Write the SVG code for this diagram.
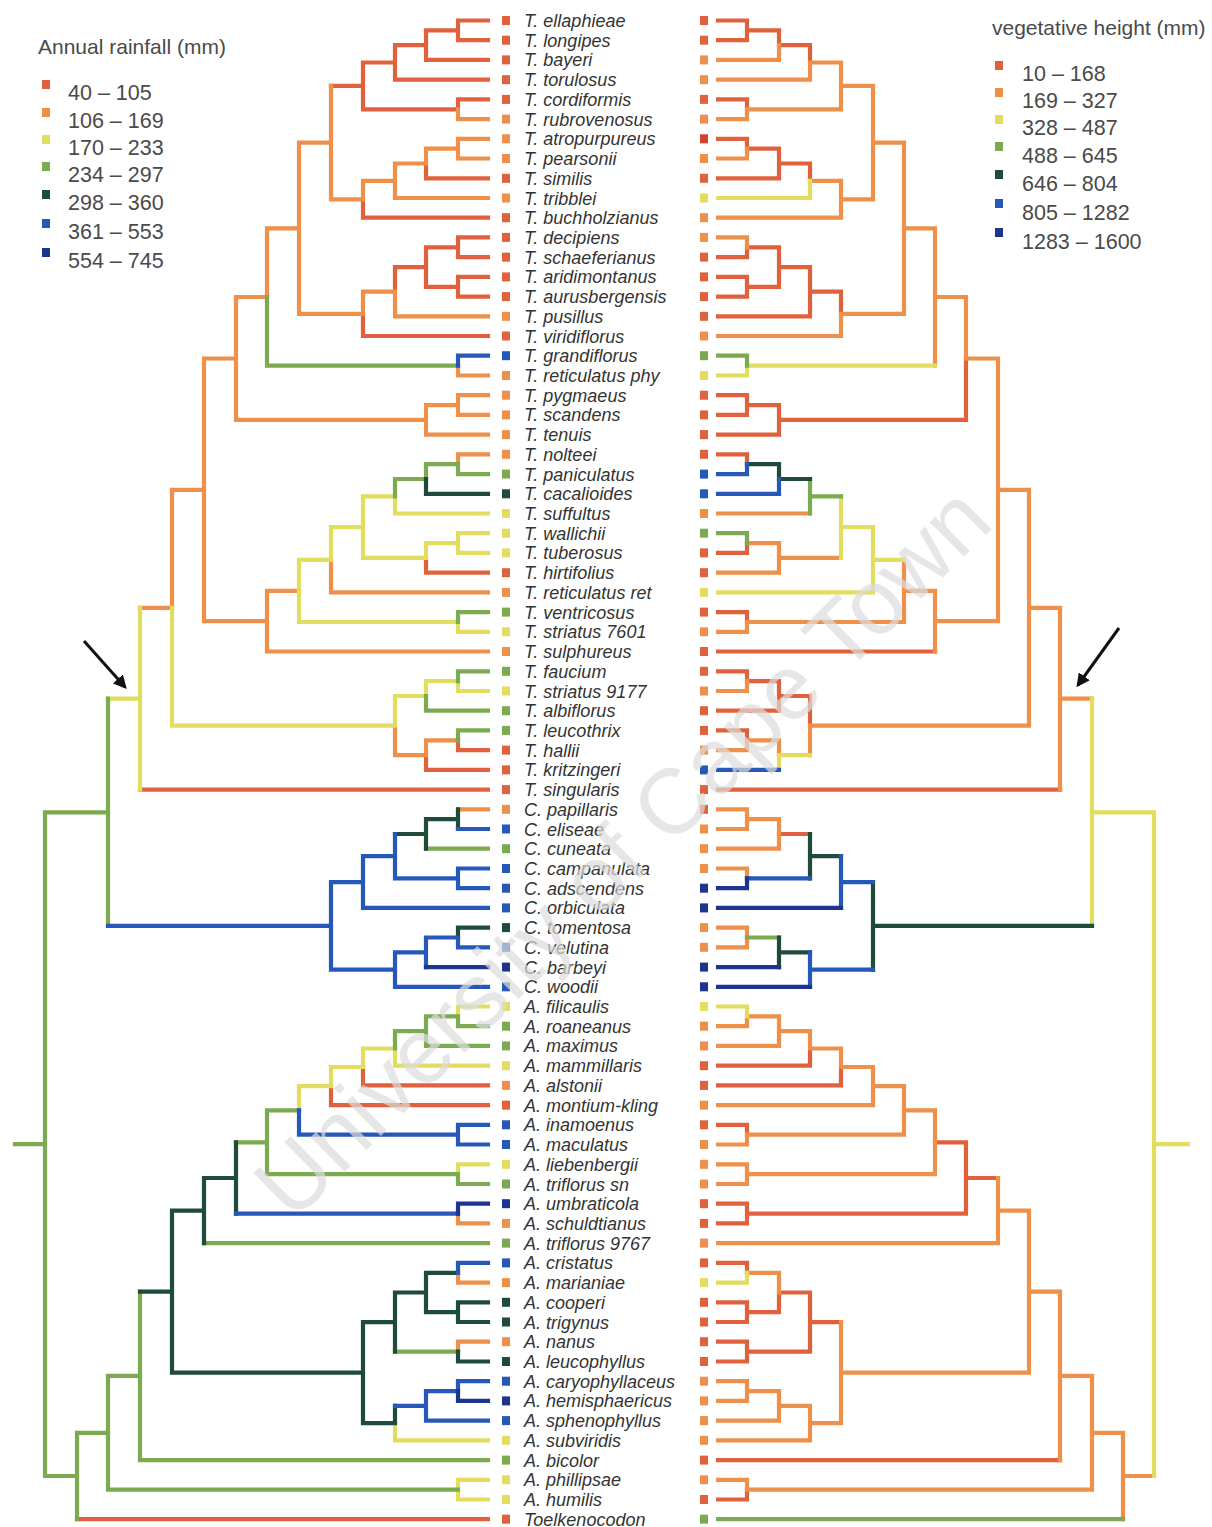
<svg xmlns="http://www.w3.org/2000/svg" width="1212" height="1527" viewBox="0 0 1212 1527">
<defs>
<style>
.e{fill:none;stroke-width:4.2;stroke-linecap:square;stroke-linejoin:miter}
.k1{stroke:#E0623C}.k2{stroke:#EE8F4A}.k3{stroke:#E2DD5E}.k4{stroke:#7CAA50}.k5{stroke:#1F4B3B}.k6{stroke:#2558B9}.k7{stroke:#1D3491}
.s1{fill:#E0623C}.s2{fill:#EE8F4A}.s3{fill:#E2DD5E}.s4{fill:#7CAA50}.s5{fill:#1F4B3B}.s6{fill:#2558B9}.s7{fill:#1D3491}
.lab text{font-family:"Liberation Sans",Arial,sans-serif;font-style:italic;font-size:18px;fill:#333}
.leg{font-family:"Liberation Sans",Arial,sans-serif;font-size:21.5px;fill:#4a4a4a}
.leg .ttl{font-size:21px}
.wm{font-family:"Liberation Sans",Arial,sans-serif;font-size:92px;fill:#dcdcdc;fill-opacity:0.7}
</style>
<marker id="arr" viewBox="0 0 10 10" refX="8" refY="5" markerWidth="4.5" markerHeight="4.5" orient="auto"><path d="M0 0L10 5L0 10z" fill="#111"/></marker>
</defs>
<rect width="1212" height="1527" fill="#fff"/>

<!-- tree branches: left = annual rainfall, right = vegetative height -->
<g id="connectors">
<g id="rainfall-tree">
<path class="e k1" d="M458 30.4V20.5H488M458 30.4V40.2H488M426 45.2V59.9H488M395 62.5V79.7H488M458 109.3V99.4H488M426 163.5V178.3H488M363 199.3V217.7H488M458 247.3V237.4H488M458 247.3V257.1H488M458 286.8V276.9H488M458 286.8V296.6H488M363 313.9V336H488M426 557.9V572.7H488M458 740.3V750.1H488M426 755.1V769.9H488M140 789.6H488M363 1067V1085.4H488M331 1086.1V1105.1H488M77 1519.2H488M426 45.2V30.4H458M395 62.5V45.2H426M363 85.9V62.5H395M363 85.9V109.3H458M331 85.9H363M426 267.1V247.3H458M426 267.1V286.8H458M395 291.7V267.1H426"/>
<path class="e k2" d="M458 109.3V119.1H488M458 148.7V138.8H488M458 148.7V158.5H488M395 180.8V198H488M395 291.7V316.3H488M458 365.6V375.5H488M458 405.1V395.2H488M458 405.1V414.9H488M426 419.9V434.6H488M458 464.2V454.3H488M331 559.8V592.4H488M267 621.2V651.5H488M458 809.3H488M458 1213.6V1223.4H488M458 1272.8V1282.6H488M458 1351.6V1341.7H488M331 142.6V85.9M331 142.6V199.3H363M426 163.5V148.7H458M395 180.8V163.5H426M363 199.3V180.8H395M299 228.3V142.6H331M363 313.9V291.7H395M299 228.3V313.9H363M267 297V228.3H299M236 358.5V297H267M426 419.9V405.1H458M236 358.5V419.9H426M204 489.9V358.5H236M267 621.2V590.9H299M204 489.9V621.2H267M172 607.8V489.9H204M426 755.1V740.3H458M395 725.6V755.1H426M140 607.8H172"/>
<path class="e k3" d="M395 496.3V513.5H488M458 543.1V533.2H488M458 543.1V552.9H488M458 622V631.8H488M458 681.2V691H488M140 698.7V789.6M458 1016.4V1006.5H488M395 1048.5V1065.7H488M458 1174.2V1164.3H488M395 1423.1V1440.3H488M458 1489.7V1479.8H488M458 1489.7V1499.5H488M363 527.1V496.3H395M426 557.9V543.1H458M363 527.1V557.9H426M331 559.8V527.1H363M299 590.9V559.8H331M299 590.9V622H458M426 696V681.2H458M395 725.6V696H426M172 607.8V725.6H395M140 698.7V607.8M108 698.7H140M363 1067V1048.5H395M331 1086.1V1067H363M299 1110.4V1086.1H331"/>
<path class="e k4" d="M458 464.2V474.1H488M458 622V612.1H488M458 681.2V671.3H488M426 696V710.7H488M458 740.3V730.4H488M426 848.7H488M458 1016.4V1026.2H488M426 1031.2V1045.9H488M458 1174.2V1184H488M204 1243.1H488M140 1375.9V1460.1H488M77 1476V1519.2M267 297V365.6H458M426 479V464.2H458M395 496.3V479H426M108 812.3V698.7M108 812.3V925.9M45 1144.2V812.3H108M426 1031.2V1016.4H458M395 1048.5V1031.2H426M267 1142.3V1110.4H299M267 1142.3V1174.2H458M236 1142.3H267M395 1351.6H458M140 1375.9V1291.6M108 1432.8V1375.9H140M108 1432.8V1489.7H458M77 1476V1432.8H108M45 1144.2V1476H77M15 1144.2H45"/>
<path class="e k5" d="M426 479V493.8H488M458 819.2V809.3M458 819.2V829M426 834V848.7M458 937.5V927.6H488M204 1210.6V1243.1M458 1312.2V1302.3H488M458 1312.2V1322H488M458 1351.6V1361.5H488M426 834V819.2H458M395 834H426M236 1178V1142.3M236 1178V1213.6M204 1210.6V1178H236M172 1291.6V1210.6H204M426 1292.5V1272.8H458M426 1292.5V1312.2H458M395 1322.1V1292.5H426M395 1322.1V1351.6M363 1372.6V1322.1H395M395 1423.1V1405.9M363 1372.6V1423.1H395M172 1291.6V1372.6H363M140 1291.6H172"/>
<path class="e k6" d="M458 365.6V355.7H488M458 829H488M458 878.4V868.5H488M458 878.4V888.2H488M363 882.1V907.9H488M458 937.5V947.3H488M426 952.3V967.1M395 969.6V986.8H488M458 1134.7V1124.8H488M458 1134.7V1144.5H488M458 1272.8V1262.9H488M458 1391.1V1381.2H488M426 1405.9V1420.6H488M395 856.2V834M395 856.2V878.4H458M363 882.1V856.2H395M331 925.9V882.1H363M426 952.3V937.5H458M395 969.6V952.3H426M331 925.9V969.6H395M108 925.9H331M299 1110.4V1134.7H458M236 1213.6H458M426 1405.9V1391.1H458M395 1405.9H426"/>
<path class="e k7" d="M426 967.1H488M458 1213.6V1203.7H488M458 1391.1V1400.9H488"/>
</g>
<g id="height-tree">
<path class="e k1" d="M747 30.4V20.5H718M747 30.4V40.2H718M747 109.3V99.4H718M747 148.7V138.8H718M779 163.5V178.3H718M747 247.3V257.1H718M747 286.8V276.9H718M747 286.8V296.6H718M810 291.7V316.3H718M747 405.1V395.2H718M747 405.1V414.9H718M779 419.9V434.6H718M747 464.2V454.3H718M747 543.1V552.9H718M747 622V612.1H718M935 651.5H718M747 681.2V671.3H718M779 696V710.7H718M747 740.3V730.4H718M1060 789.6H718M810 1048.5V1065.7H718M841 1067V1085.4H718M747 1134.7V1124.8H718M747 1213.6V1203.7H718M747 1213.6V1223.4H718M747 1272.8V1262.9H718M747 1312.2V1302.3H718M747 1312.2V1322H718M747 1351.6V1341.7H718M747 1351.6V1361.5H718M1060 1460.1H718M747 1489.7V1499.5H718M779 45.2V30.4H747M810 62.5V45.2H779M779 163.5V148.7H747M810 180.8V163.5H779M779 267.1V247.3H747M779 267.1V286.8H747M810 291.7V267.1H779M841 313.9V291.7H810M779 419.9V405.1H747M966 358.5V419.9H779M779 696V681.2H747M810 725.6V696H779M810 834H779M966 1178V1142.3H935M966 1178V1213.6H747M998 1178H966M779 1292.5V1312.2H747M810 1322.1V1292.5H779M810 1322.1V1351.6H747M841 1322.1H810"/>
<path class="e k2" d="M779 45.2V59.9H718M810 62.5V79.7H718M747 109.3V119.1H718M747 148.7V158.5H718M841 199.3V217.7H718M747 247.3V237.4H718M841 313.9V336H718M810 513.5H718M779 557.9V572.7H718M747 622V631.8H718M935 621.2V651.5M747 681.2V691H718M747 740.3V750.1H718M1060 698.7V789.6M747 819.2V809.3H718M747 819.2V829H718M779 834V848.7H718M747 878.4V868.5H718M747 937.5V927.6H718M747 937.5V947.3H718M747 1016.4V1026.2H718M779 1031.2V1045.9H718M873 1086.1V1105.1H718M747 1134.7V1144.5H718M747 1174.2V1164.3H718M747 1174.2V1184H718M998 1210.6V1243.1H718M747 1391.1V1381.2H718M747 1391.1V1400.9H718M779 1405.9V1420.6H718M810 1423.1V1440.3H718M1060 1375.9V1460.1M747 1489.7V1479.8H718M1123 1476V1519.2M841 85.9V62.5H810M841 85.9V109.3H747M873 142.6V85.9H841M873 142.6V199.3H841M841 199.3V180.8H810M904 228.3V142.6H873M904 228.3V313.9H841M935 297V228.3H904M935 297V365.6M966 358.5V297H935M998 489.9V358.5H966M779 557.9V543.1H747M841 557.9H779M904 590.9V559.8M904 590.9V622H747M935 621.2V590.9H904M998 489.9V621.2H935M1029 607.8V489.9H998M779 755.1V740.3H747M810 725.6V755.1M1029 607.8V725.6H810M1060 698.7V607.8H1029M1092 698.7H1060M779 834V819.2H747M779 1031.2V1016.4H747M810 1048.5V1031.2H779M841 1067V1048.5H810M873 1086.1V1067H841M904 1110.4V1086.1H873M904 1110.4V1134.7H747M935 1142.3V1110.4H904M935 1142.3V1174.2H747M998 1210.6V1178M1029 1291.6V1210.6H998M779 1292.5V1272.8H747M841 1372.6V1322.1M779 1405.9V1391.1H747M810 1423.1V1405.9H779M841 1372.6V1423.1H810M1029 1291.6V1372.6H841M1060 1375.9V1291.6H1029M1092 1432.8V1375.9H1060M1092 1432.8V1489.7H747M1123 1476V1432.8H1092M1154 1476H1123"/>
<path class="e k3" d="M810 180.8V198H718M747 365.6V375.5H718M873 559.8V592.4H718M779 755.1V769.9M747 1016.4V1006.5H718M747 1272.8V1282.6H718M935 365.6H747M841 527.1V496.3M841 527.1V557.9M873 559.8V527.1H841M904 559.8H873M810 755.1H779M1092 812.3V698.7M1092 812.3V925.9M1154 1144.2V812.3H1092M1154 1144.2V1476M1154 1144.2H1188"/>
<path class="e k4" d="M747 365.6V355.7H718M810 496.3V513.5M747 543.1V533.2H718M1123 1519.2H718M810 496.3V479M841 496.3H810M779 937.5H747"/>
<path class="e k5" d="M779 952.3V967.1M779 479V464.2H747M810 479H779M810 856.2V834M810 856.2V878.4M841 856.2H810M873 925.9V882.1M779 952.3V937.5M810 952.3H779M873 925.9V969.6M1092 925.9H873"/>
<path class="e k6" d="M747 464.2V474.1H718M779 479V493.8H718M779 769.9H718M841 882.1V907.9M810 969.6V986.8M810 878.4H747M841 882.1V856.2M873 882.1H841M810 969.6V952.3M873 969.6H810"/>
<path class="e k7" d="M747 878.4V888.2H718M841 907.9H718M779 967.1H718M810 986.8H718"/>
</g>
</g>

<!-- taxa: rainfall square, name, height square -->
<g id="taxa" class="lab">
<g id="t01"><rect class="s1" x="502" y="16" width="8" height="9"/><text x="524" y="27">T. ellaphieae</text><rect class="s1" x="700" y="16" width="8" height="9"/></g>
<g id="t02"><rect class="s1" x="502" y="35.7" width="8" height="9"/><text x="524" y="46.7">T. longipes</text><rect class="s1" x="700" y="35.7" width="8" height="9"/></g>
<g id="t03"><rect class="s1" x="502" y="55.4" width="8" height="9"/><text x="524" y="66.4">T. bayeri</text><rect class="s2" x="700" y="55.4" width="8" height="9"/></g>
<g id="t04"><rect class="s1" x="502" y="75.2" width="8" height="9"/><text x="524" y="86.2">T. torulosus</text><rect class="s2" x="700" y="75.2" width="8" height="9"/></g>
<g id="t05"><rect class="s1" x="502" y="94.9" width="8" height="9"/><text x="524" y="105.9">T. cordiformis</text><rect class="s1" x="700" y="94.9" width="8" height="9"/></g>
<g id="t06"><rect class="s2" x="502" y="114.6" width="8" height="9"/><text x="524" y="125.6">T. rubrovenosus</text><rect class="s2" x="700" y="114.6" width="8" height="9"/></g>
<g id="t07"><rect class="s2" x="502" y="134.3" width="8" height="9"/><text x="524" y="145.3">T. atropurpureus</text><rect fill="#D4402E" x="700" y="134.3" width="8" height="9"/></g>
<g id="t08"><rect class="s2" x="502" y="154" width="8" height="9"/><text x="524" y="165">T. pearsonii</text><rect class="s2" x="700" y="154" width="8" height="9"/></g>
<g id="t09"><rect class="s1" x="502" y="173.8" width="8" height="9"/><text x="524" y="184.8">T. similis</text><rect class="s1" x="700" y="173.8" width="8" height="9"/></g>
<g id="t10"><rect class="s2" x="502" y="193.5" width="8" height="9"/><text x="524" y="204.5">T. tribblei</text><rect class="s3" x="700" y="193.5" width="8" height="9"/></g>
<g id="t11"><rect class="s1" x="502" y="213.2" width="8" height="9"/><text x="524" y="224.2">T. buchholzianus</text><rect class="s2" x="700" y="213.2" width="8" height="9"/></g>
<g id="t12"><rect class="s1" x="502" y="232.9" width="8" height="9"/><text x="524" y="243.9">T. decipiens</text><rect class="s2" x="700" y="232.9" width="8" height="9"/></g>
<g id="t13"><rect class="s1" x="502" y="252.6" width="8" height="9"/><text x="524" y="263.6">T. schaeferianus</text><rect class="s1" x="700" y="252.6" width="8" height="9"/></g>
<g id="t14"><rect class="s1" x="502" y="272.4" width="8" height="9"/><text x="524" y="283.4">T. aridimontanus</text><rect class="s1" x="700" y="272.4" width="8" height="9"/></g>
<g id="t15"><rect class="s1" x="502" y="292.1" width="8" height="9"/><text x="524" y="303.1">T. aurusbergensis</text><rect class="s1" x="700" y="292.1" width="8" height="9"/></g>
<g id="t16"><rect class="s2" x="502" y="311.8" width="8" height="9"/><text x="524" y="322.8">T. pusillus</text><rect class="s1" x="700" y="311.8" width="8" height="9"/></g>
<g id="t17"><rect class="s1" x="502" y="331.5" width="8" height="9"/><text x="524" y="342.5">T. viridiflorus</text><rect class="s2" x="700" y="331.5" width="8" height="9"/></g>
<g id="t18"><rect class="s6" x="502" y="351.2" width="8" height="9"/><text x="524" y="362.2">T. grandiflorus</text><rect class="s4" x="700" y="351.2" width="8" height="9"/></g>
<g id="t19"><rect class="s2" x="502" y="371" width="8" height="9"/><text x="524" y="382">T. reticulatus phy</text><rect class="s3" x="700" y="371" width="8" height="9"/></g>
<g id="t20"><rect class="s2" x="502" y="390.7" width="8" height="9"/><text x="524" y="401.7">T. pygmaeus</text><rect class="s1" x="700" y="390.7" width="8" height="9"/></g>
<g id="t21"><rect class="s2" x="502" y="410.4" width="8" height="9"/><text x="524" y="421.4">T. scandens</text><rect class="s1" x="700" y="410.4" width="8" height="9"/></g>
<g id="t22"><rect class="s2" x="502" y="430.1" width="8" height="9"/><text x="524" y="441.1">T. tenuis</text><rect class="s1" x="700" y="430.1" width="8" height="9"/></g>
<g id="t23"><rect class="s2" x="502" y="449.8" width="8" height="9"/><text x="524" y="460.8">T. nolteei</text><rect class="s1" x="700" y="449.8" width="8" height="9"/></g>
<g id="t24"><rect class="s4" x="502" y="469.6" width="8" height="9"/><text x="524" y="480.6">T. paniculatus</text><rect class="s6" x="700" y="469.6" width="8" height="9"/></g>
<g id="t25"><rect class="s5" x="502" y="489.3" width="8" height="9"/><text x="524" y="500.3">T. cacalioides</text><rect class="s6" x="700" y="489.3" width="8" height="9"/></g>
<g id="t26"><rect class="s3" x="502" y="509" width="8" height="9"/><text x="524" y="520">T. suffultus</text><rect class="s2" x="700" y="509" width="8" height="9"/></g>
<g id="t27"><rect class="s3" x="502" y="528.7" width="8" height="9"/><text x="524" y="539.7">T. wallichii</text><rect class="s4" x="700" y="528.7" width="8" height="9"/></g>
<g id="t28"><rect class="s3" x="502" y="548.4" width="8" height="9"/><text x="524" y="559.4">T. tuberosus</text><rect class="s1" x="700" y="548.4" width="8" height="9"/></g>
<g id="t29"><rect class="s1" x="502" y="568.2" width="8" height="9"/><text x="524" y="579.2">T. hirtifolius</text><rect class="s1" x="700" y="568.2" width="8" height="9"/></g>
<g id="t30"><rect class="s2" x="502" y="587.9" width="8" height="9"/><text x="524" y="598.9">T. reticulatus ret</text><rect class="s3" x="700" y="587.9" width="8" height="9"/></g>
<g id="t31"><rect class="s4" x="502" y="607.6" width="8" height="9"/><text x="524" y="618.6">T. ventricosus</text><rect class="s1" x="700" y="607.6" width="8" height="9"/></g>
<g id="t32"><rect class="s3" x="502" y="627.3" width="8" height="9"/><text x="524" y="638.3">T. striatus 7601</text><rect class="s2" x="700" y="627.3" width="8" height="9"/></g>
<g id="t33"><rect class="s2" x="502" y="647" width="8" height="9"/><text x="524" y="658">T. sulphureus</text><rect class="s1" x="700" y="647" width="8" height="9"/></g>
<g id="t34"><rect class="s4" x="502" y="666.8" width="8" height="9"/><text x="524" y="677.8">T. faucium</text><rect class="s1" x="700" y="666.8" width="8" height="9"/></g>
<g id="t35"><rect class="s3" x="502" y="686.5" width="8" height="9"/><text x="524" y="697.5">T. striatus 9177</text><rect class="s2" x="700" y="686.5" width="8" height="9"/></g>
<g id="t36"><rect class="s4" x="502" y="706.2" width="8" height="9"/><text x="524" y="717.2">T. albiflorus</text><rect class="s1" x="700" y="706.2" width="8" height="9"/></g>
<g id="t37"><rect class="s4" x="502" y="725.9" width="8" height="9"/><text x="524" y="736.9">T. leucothrix</text><rect class="s1" x="700" y="725.9" width="8" height="9"/></g>
<g id="t38"><rect class="s1" x="502" y="745.6" width="8" height="9"/><text x="524" y="756.6">T. hallii</text><rect class="s2" x="700" y="745.6" width="8" height="9"/></g>
<g id="t39"><rect class="s1" x="502" y="765.4" width="8" height="9"/><text x="524" y="776.4">T. kritzingeri</text><rect class="s6" x="700" y="765.4" width="8" height="9"/></g>
<g id="t40"><rect class="s1" x="502" y="785.1" width="8" height="9"/><text x="524" y="796.1">T. singularis</text><rect class="s1" x="700" y="785.1" width="8" height="9"/></g>
<g id="t41"><rect class="s2" x="502" y="804.8" width="8" height="9"/><text x="524" y="815.8">C. papillaris</text><rect class="s1" x="700" y="804.8" width="8" height="9"/></g>
<g id="t42"><rect class="s6" x="502" y="824.5" width="8" height="9"/><text x="524" y="835.5">C. eliseae</text><rect class="s2" x="700" y="824.5" width="8" height="9"/></g>
<g id="t43"><rect class="s4" x="502" y="844.2" width="8" height="9"/><text x="524" y="855.2">C. cuneata</text><rect class="s2" x="700" y="844.2" width="8" height="9"/></g>
<g id="t44"><rect class="s6" x="502" y="864" width="8" height="9"/><text x="524" y="875">C. campanulata</text><rect class="s2" x="700" y="864" width="8" height="9"/></g>
<g id="t45"><rect class="s6" x="502" y="883.7" width="8" height="9"/><text x="524" y="894.7">C. adscendens</text><rect class="s7" x="700" y="883.7" width="8" height="9"/></g>
<g id="t46"><rect class="s6" x="502" y="903.4" width="8" height="9"/><text x="524" y="914.4">C. orbiculata</text><rect class="s7" x="700" y="903.4" width="8" height="9"/></g>
<g id="t47"><rect class="s5" x="502" y="923.1" width="8" height="9"/><text x="524" y="934.1">C. tomentosa</text><rect class="s2" x="700" y="923.1" width="8" height="9"/></g>
<g id="t48"><rect class="s6" x="502" y="942.8" width="8" height="9"/><text x="524" y="953.8">C. velutina</text><rect class="s2" x="700" y="942.8" width="8" height="9"/></g>
<g id="t49"><rect class="s7" x="502" y="962.6" width="8" height="9"/><text x="524" y="973.6">C. barbeyi</text><rect class="s7" x="700" y="962.6" width="8" height="9"/></g>
<g id="t50"><rect class="s6" x="502" y="982.3" width="8" height="9"/><text x="524" y="993.3">C. woodii</text><rect class="s7" x="700" y="982.3" width="8" height="9"/></g>
<g id="t51"><rect class="s3" x="502" y="1002" width="8" height="9"/><text x="524" y="1013">A. filicaulis</text><rect class="s3" x="700" y="1002" width="8" height="9"/></g>
<g id="t52"><rect class="s4" x="502" y="1021.7" width="8" height="9"/><text x="524" y="1032.7">A. roaneanus</text><rect class="s2" x="700" y="1021.7" width="8" height="9"/></g>
<g id="t53"><rect class="s4" x="502" y="1041.4" width="8" height="9"/><text x="524" y="1052.4">A. maximus</text><rect class="s2" x="700" y="1041.4" width="8" height="9"/></g>
<g id="t54"><rect class="s3" x="502" y="1061.2" width="8" height="9"/><text x="524" y="1072.2">A. mammillaris</text><rect class="s1" x="700" y="1061.2" width="8" height="9"/></g>
<g id="t55"><rect class="s2" x="502" y="1080.9" width="8" height="9"/><text x="524" y="1091.9">A. alstonii</text><rect class="s1" x="700" y="1080.9" width="8" height="9"/></g>
<g id="t56"><rect class="s1" x="502" y="1100.6" width="8" height="9"/><text x="524" y="1111.6">A. montium-kling</text><rect class="s2" x="700" y="1100.6" width="8" height="9"/></g>
<g id="t57"><rect class="s6" x="502" y="1120.3" width="8" height="9"/><text x="524" y="1131.3">A. inamoenus</text><rect class="s1" x="700" y="1120.3" width="8" height="9"/></g>
<g id="t58"><rect class="s6" x="502" y="1140" width="8" height="9"/><text x="524" y="1151">A. maculatus</text><rect class="s2" x="700" y="1140" width="8" height="9"/></g>
<g id="t59"><rect class="s3" x="502" y="1159.8" width="8" height="9"/><text x="524" y="1170.8">A. liebenbergii</text><rect class="s2" x="700" y="1159.8" width="8" height="9"/></g>
<g id="t60"><rect class="s4" x="502" y="1179.5" width="8" height="9"/><text x="524" y="1190.5">A. triflorus sn</text><rect class="s2" x="700" y="1179.5" width="8" height="9"/></g>
<g id="t61"><rect class="s7" x="502" y="1199.2" width="8" height="9"/><text x="524" y="1210.2">A. umbraticola</text><rect class="s1" x="700" y="1199.2" width="8" height="9"/></g>
<g id="t62"><rect class="s2" x="502" y="1218.9" width="8" height="9"/><text x="524" y="1229.9">A. schuldtianus</text><rect class="s1" x="700" y="1218.9" width="8" height="9"/></g>
<g id="t63"><rect class="s4" x="502" y="1238.6" width="8" height="9"/><text x="524" y="1249.6">A. triflorus 9767</text><rect class="s2" x="700" y="1238.6" width="8" height="9"/></g>
<g id="t64"><rect class="s6" x="502" y="1258.4" width="8" height="9"/><text x="524" y="1269.4">A. cristatus</text><rect class="s1" x="700" y="1258.4" width="8" height="9"/></g>
<g id="t65"><rect class="s2" x="502" y="1278.1" width="8" height="9"/><text x="524" y="1289.1">A. marianiae</text><rect class="s3" x="700" y="1278.1" width="8" height="9"/></g>
<g id="t66"><rect class="s5" x="502" y="1297.8" width="8" height="9"/><text x="524" y="1308.8">A. cooperi</text><rect class="s1" x="700" y="1297.8" width="8" height="9"/></g>
<g id="t67"><rect class="s5" x="502" y="1317.5" width="8" height="9"/><text x="524" y="1328.5">A. trigynus</text><rect class="s1" x="700" y="1317.5" width="8" height="9"/></g>
<g id="t68"><rect class="s2" x="502" y="1337.2" width="8" height="9"/><text x="524" y="1348.2">A. nanus</text><rect class="s1" x="700" y="1337.2" width="8" height="9"/></g>
<g id="t69"><rect class="s5" x="502" y="1357" width="8" height="9"/><text x="524" y="1368">A. leucophyllus</text><rect class="s1" x="700" y="1357" width="8" height="9"/></g>
<g id="t70"><rect class="s6" x="502" y="1376.7" width="8" height="9"/><text x="524" y="1387.7">A. caryophyllaceus</text><rect class="s2" x="700" y="1376.7" width="8" height="9"/></g>
<g id="t71"><rect class="s7" x="502" y="1396.4" width="8" height="9"/><text x="524" y="1407.4">A. hemisphaericus</text><rect class="s2" x="700" y="1396.4" width="8" height="9"/></g>
<g id="t72"><rect class="s6" x="502" y="1416.1" width="8" height="9"/><text x="524" y="1427.1">A. sphenophyllus</text><rect class="s2" x="700" y="1416.1" width="8" height="9"/></g>
<g id="t73"><rect class="s3" x="502" y="1435.8" width="8" height="9"/><text x="524" y="1446.8">A. subviridis</text><rect class="s2" x="700" y="1435.8" width="8" height="9"/></g>
<g id="t74"><rect class="s4" x="502" y="1455.6" width="8" height="9"/><text x="524" y="1466.6">A. bicolor</text><rect class="s1" x="700" y="1455.6" width="8" height="9"/></g>
<g id="t75"><rect class="s3" x="502" y="1475.3" width="8" height="9"/><text x="524" y="1486.3">A. phillipsae</text><rect class="s2" x="700" y="1475.3" width="8" height="9"/></g>
<g id="t76"><rect class="s3" x="502" y="1495" width="8" height="9"/><text x="524" y="1506">A. humilis</text><rect class="s1" x="700" y="1495" width="8" height="9"/></g>
<g id="t77"><rect class="s1" x="502" y="1514.7" width="8" height="9"/><text x="524" y="1525.7">Toelkenocodon</text><rect class="s4" x="700" y="1514.7" width="8" height="9"/></g>
</g>

<!-- legends -->
<g id="legend-rainfall" class="leg">
<text class="ttl" x="38" y="54">Annual rainfall (mm)</text>
<rect class="s1" x="42" y="80" width="8" height="9"/><text x="68" y="100">40 – 105</text>
<rect class="s2" x="42" y="108" width="8" height="9"/><text x="68" y="128">106 – 169</text>
<rect class="s3" x="42" y="135" width="8" height="9"/><text x="68" y="155">170 – 233</text>
<rect class="s4" x="42" y="162" width="8" height="9"/><text x="68" y="182">234 – 297</text>
<rect class="s5" x="42" y="190" width="8" height="9"/><text x="68" y="210">298 – 360</text>
<rect class="s6" x="42" y="219" width="8" height="9"/><text x="68" y="239">361 – 553</text>
<rect class="s7" x="42" y="248" width="8" height="9"/><text x="68" y="268">554 – 745</text>
</g>
<g id="legend-height" class="leg">
<text class="ttl" x="992" y="35">vegetative height (mm)</text>
<rect class="s1" x="995" y="61" width="8" height="9"/><text x="1022" y="81">10 – 168</text>
<rect class="s2" x="995" y="88" width="8" height="9"/><text x="1022" y="108">169 – 327</text>
<rect class="s3" x="995" y="115" width="8" height="9"/><text x="1022" y="135">328 – 487</text>
<rect class="s4" x="995" y="142" width="8" height="9"/><text x="1022" y="163">488 – 645</text>
<rect class="s5" x="995" y="170" width="8" height="9"/><text x="1022" y="191">646 – 804</text>
<rect class="s6" x="995" y="199" width="8" height="9"/><text x="1022" y="220">805 – 1282</text>
<rect class="s7" x="995" y="228" width="8" height="9"/><text x="1022" y="249">1283 – 1600</text>
</g>

<!-- pointers to the crown node -->
<g id="arrows" stroke="#111" stroke-width="3">
<line x1="84" y1="641" x2="125" y2="687" marker-end="url(#arr)"/>
<line x1="1119" y1="628" x2="1078" y2="685" marker-end="url(#arr)"/>
</g>

<text class="wm" transform="translate(293 1223) rotate(-44.8)">University of Cape Town</text>
</svg>
